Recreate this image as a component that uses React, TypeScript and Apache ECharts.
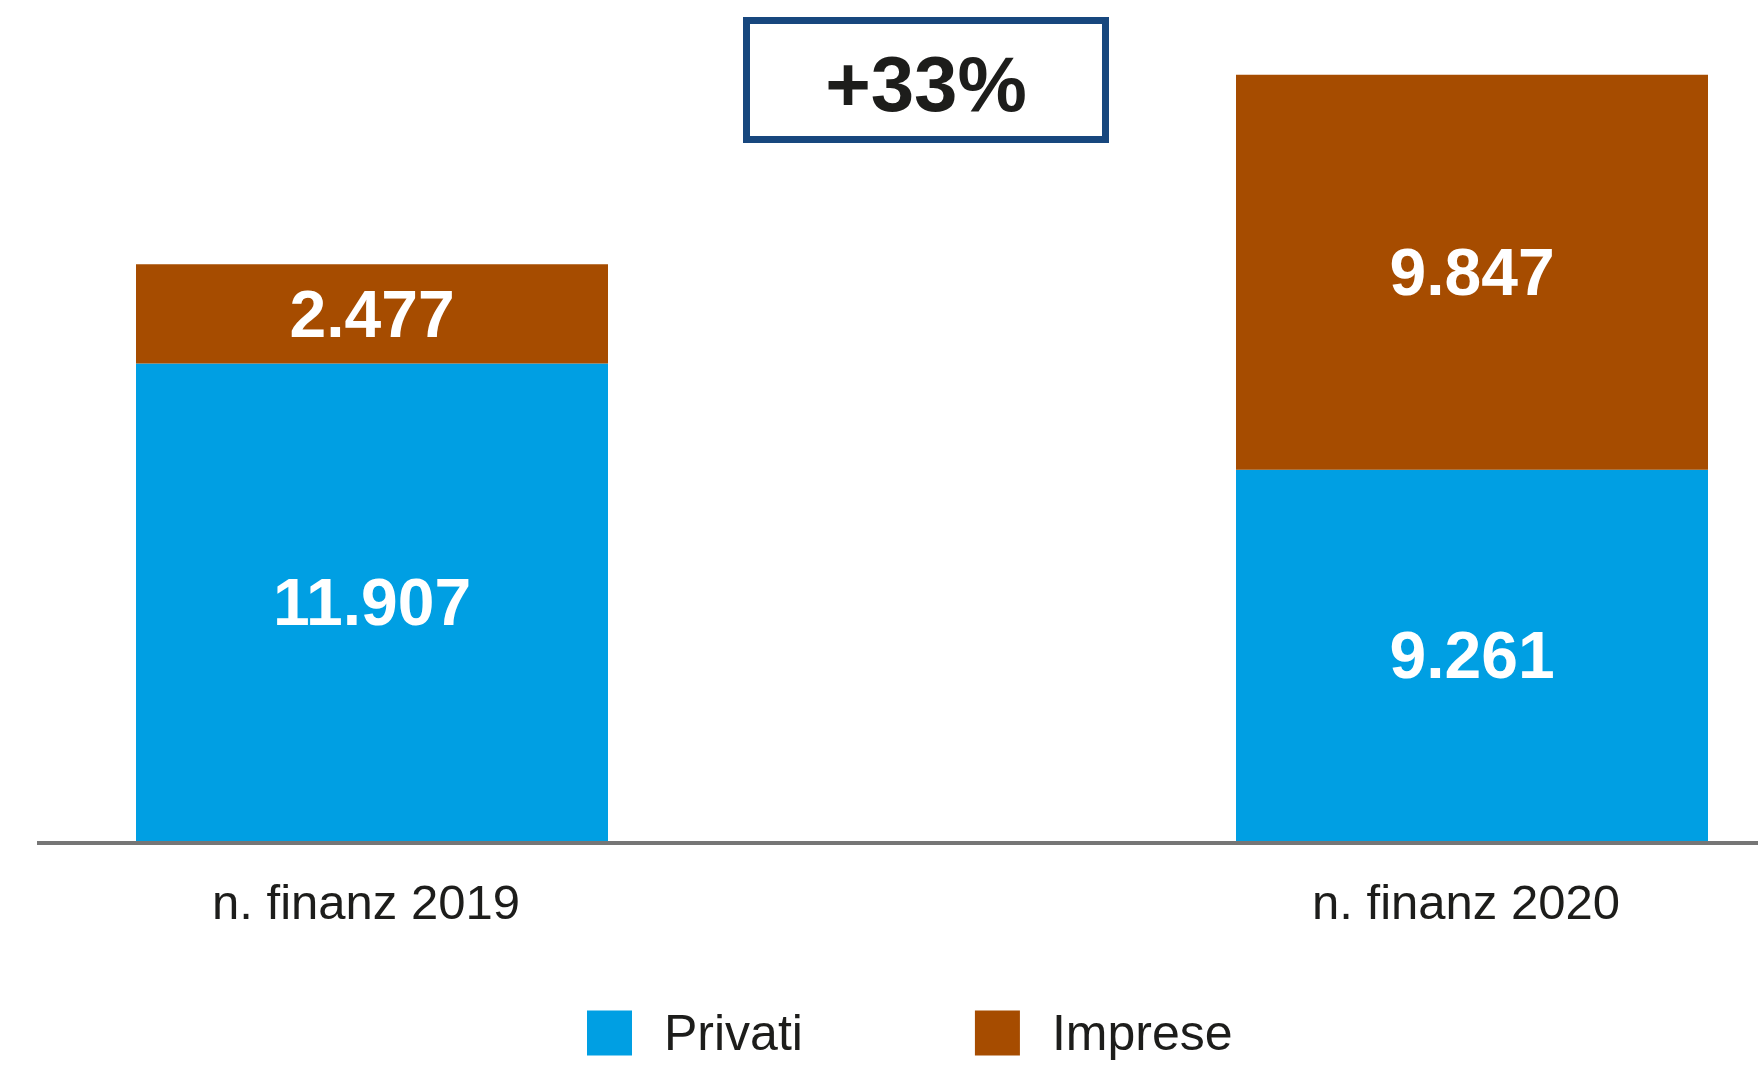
import React, { useEffect, useRef } from "react";
import * as echarts from "echarts";

const categories = ["n. finanz 2019", "n. finanz 2020"];
const privati = [11907, 9261];
const imprese = [2477, 9847];
const growthLabel = "+33%";
const seriesNames = ["Privati", "Imprese"];

const BLUE = "#009fe3";
const ORANGE = "#a64c00";
const TEXT = "#1d1d1b";
const FONT = "'Liberation Sans', Arial, sans-serif";

const fmt = (v: number) => String(Math.round(v)).replace(/\B(?=(\d{3})+(?!\d))/g, ".");

export default function App() {
  const ref = useRef<HTMLDivElement>(null);
  useEffect(() => {
    if (!ref.current) return;
    const chart = echarts.init(ref.current, null, { renderer: "svg" });
    const label = {
      show: true,
      position: "inside",
      color: "#ffffff",
      fontSize: 66,
      fontWeight: "bold",
      fontFamily: FONT,
      formatter: (p: any) => fmt(p.value),
    };
    chart.setOption({
      animation: false,
      backgroundColor: "#ffffff",
      grid: { left: 372, right: 286, top: 39, bottom: 226, containLabel: false },
      xAxis: {
        type: "category",
        data: categories,
        boundaryGap: false,
        axisLine: { show: false },
        axisTick: { show: false },
        axisLabel: {
          color: TEXT,
          fontSize: 49,
          fontFamily: FONT,
          margin: 36,
          padding: [0, 12, 0, 0],
        },
      },
      yAxis: {
        type: "value",
        min: 0,
        max: 20000,
        show: false,
        splitLine: { show: false },
      },
      legend: {
        left: 582,
        top: 1003,
        itemWidth: 45,
        itemHeight: 45,
        itemGap: 172,
        icon: "rect",
        textStyle: { color: TEXT, fontSize: 50, fontFamily: FONT, padding: [0, 0, 0, 27] },
        data: seriesNames,
      },
      series: [
        {
          name: seriesNames[0],
          type: "bar",
          stack: "t",
          barWidth: 472,
          clip: false,
          data: privati,
          itemStyle: { color: BLUE },
          label,
        },
        {
          name: seriesNames[1],
          type: "bar",
          stack: "t",
          barWidth: 472,
          clip: false,
          data: imprese,
          itemStyle: { color: ORANGE },
          label,
        },
      ],
      graphic: [
        {
          type: "line",
          shape: { x1: 37, y1: 843, x2: 1758, y2: 843 },
          style: { stroke: "#767676", lineWidth: 4 },
          z: 10,
        },
        {
          type: "rect",
          shape: { x: 746.5, y: 20.5, width: 359, height: 119 },
          style: { fill: "#ffffff", stroke: "#17477e", lineWidth: 7 },
        },
        {
          type: "text",
          x: 926,
          y: 84,
          style: {
            text: growthLabel,
            fill: TEXT,
            fontSize: 78,
            fontWeight: "bold",
            fontFamily: FONT,
            align: "center",
            verticalAlign: "middle",
          },
        },
      ],
    });
    return () => chart.dispose();
  }, []);
  return (
    <div
      ref={ref}
      style={{ position: "absolute", left: 0, top: 0, width: 1758, height: 1067 }}
    />
  );
}
